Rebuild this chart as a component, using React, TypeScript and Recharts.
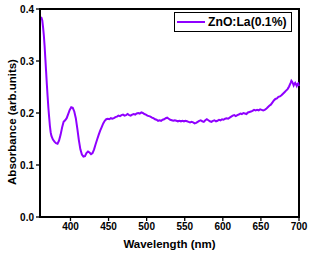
import React from "react";
import { LineChart, Line, XAxis, YAxis, ReferenceArea, Legend, Label } from "recharts";

const wavelengths = [361,362,363,364,365,366,367,368,369,370,371,372,373,374,375,377,379,381,383,385,387,389,391,393,395,397,399,401,403,405,407,409,411,413,415,417,419,421,423,425,427,429,431,433,435,437,439,441,443,445,447,449,451,453,455,457,459,461,463,465,467,469,471,473,475,477,479,481,483,485,487,489,491,493,495,497,499,501,503,505,507,509,511,513,515,517,519,521,523,525,527,529,531,533,535,537,539,541,543,545,547,549,551,553,555,557,559,561,563,565,567,569,571,573,575,577,579,581,583,585,587,589,591,593,595,597,599,601,603,605,607,609,611,613,615,617,619,621,623,625,627,629,631,633,635,637,639,641,643,645,647,649,651,653,655,657,659,661,663,665,667,669,671,673,675,677,679,681,683,685,687,689,690,691,692,693,694,695,696,697,698,699,700];
const absorbance = [0.384,0.383,0.378,0.365,0.35,0.33,0.305,0.28,0.255,0.232,0.21,0.192,0.175,0.163,0.156,0.149,0.145,0.142,0.141,0.147,0.158,0.172,0.183,0.186,0.19,0.198,0.206,0.211,0.21,0.203,0.19,0.17,0.148,0.13,0.12,0.116,0.117,0.123,0.126,0.124,0.121,0.123,0.13,0.14,0.149,0.158,0.166,0.173,0.18,0.185,0.188,0.189,0.188,0.19,0.189,0.19,0.192,0.193,0.195,0.194,0.196,0.197,0.195,0.196,0.198,0.196,0.195,0.197,0.198,0.197,0.199,0.2,0.199,0.201,0.2,0.198,0.197,0.195,0.194,0.193,0.191,0.19,0.188,0.187,0.185,0.186,0.185,0.187,0.188,0.19,0.191,0.189,0.187,0.186,0.185,0.186,0.185,0.184,0.185,0.184,0.185,0.184,0.185,0.184,0.183,0.182,0.183,0.182,0.18,0.181,0.183,0.185,0.186,0.184,0.183,0.186,0.188,0.186,0.184,0.183,0.185,0.186,0.184,0.185,0.187,0.186,0.188,0.187,0.189,0.19,0.189,0.191,0.193,0.195,0.196,0.194,0.196,0.197,0.199,0.198,0.2,0.199,0.198,0.201,0.202,0.203,0.204,0.206,0.205,0.206,0.205,0.207,0.206,0.205,0.206,0.208,0.211,0.214,0.216,0.22,0.224,0.227,0.228,0.231,0.232,0.234,0.237,0.24,0.243,0.246,0.251,0.258,0.262,0.26,0.257,0.253,0.256,0.258,0.255,0.252,0.256,0.257,0.252];

const xMajorTicks = [400, 450, 500, 550, 600, 650, 700];
const xMinorTicks = [375, 425, 475, 525, 575, 625, 675];
const yMajorTicks = [0, 0.1, 0.2, 0.3, 0.4];
const yMinorTicks = [0.05, 0.15, 0.25, 0.35];
const seriesName = "ZnO:La(0.1%)";
const xLabel = "Wavelength (nm)";
const yLabel = "Absorbance (arb.units)";

const data = wavelengths.map((w, i) => ({ w, a: absorbance[i] }));

const FONT = "'Liberation Sans', Arial, sans-serif";
const COLOR = "#8f00ff";

const LegendBox = () => (
  <div style={{
    border: "1px solid #000", boxSizing: "border-box", width: 118, height: 20,
    display: "flex", alignItems: "center", background: "#fff", fontFamily: FONT,
  }}>
    <div style={{ width: 28, height: 2, background: COLOR, marginLeft: 2, marginRight: 3 }} />
    <span style={{ fontWeight: "bold", fontSize: 12.2, color: "#000", whiteSpace: "nowrap" }}>{seriesName}</span>
  </div>
);

const YTitle = (props: any) => {
  const vb = props.viewBox || { x: 0, y: 0, width: 40, height: 208 };
  const x = 16;
  const y = vb.y + vb.height / 2 + 9;
  return (
    <text x={x} y={y} transform={`rotate(-90, ${x}, ${y})`} textAnchor="middle"
      style={{ fill: "#000", fontSize: 11.5, fontWeight: "bold", fontFamily: FONT }}>
      {yLabel}
    </text>
  );
};

export default function App() {
  return (
    <div style={{ position: "absolute", left: 0, top: 0, width: 310, height: 256, background: "#fff" }}>
      <LineChart width={310} height={256} data={data} margin={{ top: 9, right: 11, bottom: 9, left: 0 }}>
        <XAxis xAxisId="minor" dataKey="w" type="number" domain={[360, 700]} ticks={xMinorTicks}
          height={0} tick={false} axisLine={false} tickLine={{ stroke: "#000", strokeWidth: 1.3 }} tickSize={2.5} />
        <XAxis dataKey="w" type="number" domain={[360, 700]} ticks={xMajorTicks} height={30}
          axisLine={{ stroke: "#000", strokeWidth: 2 }} tickLine={{ stroke: "#000", strokeWidth: 1.3 }} tickSize={4}
          tick={{ fill: "#000", fontSize: 10, fontWeight: "bold", fontFamily: FONT }} tickMargin={2}>
          <Label value={xLabel} position="insideBottom" offset={-1}
            style={{ fill: "#000", fontSize: 11.5, fontWeight: "bold", fontFamily: FONT }} />
        </XAxis>
        <YAxis yAxisId="minor" type="number" domain={[0, 0.4]} ticks={yMinorTicks} width={0}
          tick={false} axisLine={false} tickLine={{ stroke: "#000", strokeWidth: 1.3 }} tickSize={2.5} />
        <YAxis type="number" domain={[0, 0.4]} ticks={yMajorTicks} width={40}
          tickFormatter={(v: number) => v.toFixed(1)}
          axisLine={{ stroke: "#000", strokeWidth: 2 }} tickLine={{ stroke: "#000", strokeWidth: 1.3 }} tickSize={4}
          tick={{ fill: "#000", fontSize: 10, fontWeight: "bold", fontFamily: FONT }} tickMargin={2}>
          <Label content={<YTitle />} position="insideLeft" />
        </YAxis>
        <ReferenceArea x1={360} x2={700} y1={0} y2={0.4} fill="none" stroke="#000" strokeWidth={2} ifOverflow="visible" />
        <Line dataKey="a" stroke={COLOR} strokeWidth={2} dot={false} isAnimationActive={false} type="linear" />
        <Legend layout="horizontal" verticalAlign="middle" align="center" content={() => <LegendBox />}
          wrapperStyle={{ position: "absolute", left: 174, top: 12, width: 118, height: 20 }} />
      </LineChart>
    </div>
  );
}
